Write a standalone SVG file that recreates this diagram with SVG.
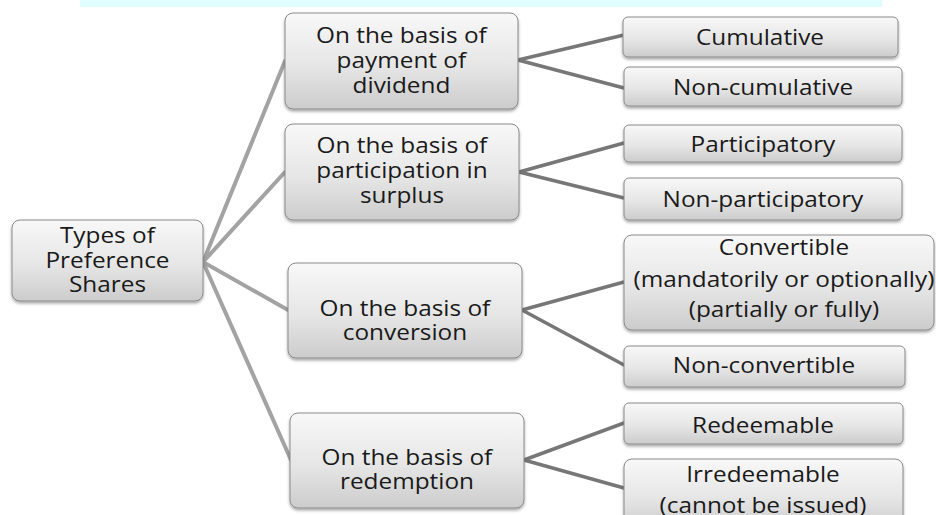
<svg xmlns="http://www.w3.org/2000/svg" width="936" height="515" viewBox="0 0 936 515">
  <defs>
    <linearGradient id="boxFill" x1="0" y1="0" x2="0" y2="1">
      <stop offset="0" stop-color="#f8f8f8"/>
      <stop offset="0.55" stop-color="#e6e6e6"/>
      <stop offset="1" stop-color="#cccccc"/>
    </linearGradient>
    <filter id="shadow" x="-10%" y="-10%" width="120%" height="130%">
      <feDropShadow dx="0" dy="2" stdDeviation="1.5" flood-color="#000" flood-opacity="0.35"/>
    </filter>
  </defs>
  <style>
    .box { fill: url(#boxFill); stroke: #8a8a8a; stroke-width: 1; filter: url(#shadow); }
    .lbl { font-family: "Open Sans", "Noto Sans", sans-serif; font-size: 21px; fill: #1a1a1a; text-anchor: middle;
           transform-box: fill-box; transform-origin: center; transform: scaleX(1.16); }
    .root-link { stroke: #a3a3a3; stroke-width: 4; fill: none; stroke-linecap: round; }
    .leaf-link { stroke: #777777; stroke-width: 3.5; fill: none; stroke-linecap: round; }
  </style>

  <rect x="80" y="0" width="802" height="7" fill="#e0fdff"/>

  <g id="connectors">
    <path class="root-link" d="M203,262 L285,61 M203,262 L285,172 M203,262 L288,310 M203,262 L291,460"/>
    <path class="leaf-link" d="M518,60 L624,35 M518,60 L624,88"/>
    <path class="leaf-link" d="M519,172 L624,143 M519,172 L624,198"/>
    <path class="leaf-link" d="M522,310 L624,282 M522,310 L624,365"/>
    <path class="leaf-link" d="M524,460 L624,423 M524,460 L624,488"/>
  </g>

  <g id="root">
    <rect class="box" x="12" y="220" width="191" height="81" rx="8"/>
    <text class="lbl" x="107.5" y="243">Types of</text>
    <text class="lbl" x="107.5" y="268">Preference</text>
    <text class="lbl" x="107.5" y="292">Shares</text>
  </g>

  <g id="dividend">
    <rect class="box" x="285" y="13" width="233" height="96" rx="8"/>
    <text class="lbl" x="401.5" y="43">On the basis of</text>
    <text class="lbl" x="401.5" y="68">payment of</text>
    <text class="lbl" x="401.5" y="93">dividend</text>
  </g>

  <g id="participation">
    <rect class="box" x="285" y="124" width="234" height="96" rx="8"/>
    <text class="lbl" x="402" y="153">On the basis of</text>
    <text class="lbl" x="402" y="178">participation in</text>
    <text class="lbl" x="402" y="203">surplus</text>
  </g>

  <g id="conversion">
    <rect class="box" x="288" y="263" width="234" height="95" rx="8"/>
    <text class="lbl" x="405" y="316">On the basis of</text>
    <text class="lbl" x="405" y="340">conversion</text>
  </g>

  <g id="redemption">
    <rect class="box" x="290" y="413" width="234" height="95" rx="8"/>
    <text class="lbl" x="407" y="465">On the basis of</text>
    <text class="lbl" x="407" y="489">redemption</text>
  </g>

  <g id="cumulative">
    <rect class="box" x="623" y="17" width="275" height="40" rx="5"/>
    <text class="lbl" x="760" y="45">Cumulative</text>
  </g>

  <g id="non-cumulative">
    <rect class="box" x="624" y="67" width="278" height="39" rx="5"/>
    <text class="lbl" x="763" y="95">Non-cumulative</text>
  </g>

  <g id="participatory">
    <rect class="box" x="624" y="125" width="278" height="37" rx="5"/>
    <text class="lbl" x="763" y="152">Participatory</text>
  </g>

  <g id="non-participatory">
    <rect class="box" x="624" y="178" width="278" height="42" rx="5"/>
    <text class="lbl" x="763" y="207">Non-participatory</text>
  </g>

  <g id="convertible">
    <rect class="box" x="624" y="235" width="310" height="95" rx="8"/>
    <text class="lbl" x="784" y="255">Convertible</text>
    <text class="lbl" x="784" y="287">(mandatorily or optionally)</text>
    <text class="lbl" x="784" y="317">(partially or fully)</text>
  </g>

  <g id="non-convertible">
    <rect class="box" x="624" y="346" width="281" height="41" rx="5"/>
    <text class="lbl" x="764" y="373">Non-convertible</text>
  </g>

  <g id="redeemable">
    <rect class="box" x="624" y="403" width="279" height="41" rx="5"/>
    <text class="lbl" x="763" y="433">Redeemable</text>
  </g>

  <g id="irredeemable">
    <rect class="box" x="624" y="459" width="279" height="70" rx="8"/>
    <text class="lbl" x="763" y="482">Irredeemable</text>
    <text class="lbl" x="763" y="513">(cannot be issued)</text>
  </g>
</svg>
